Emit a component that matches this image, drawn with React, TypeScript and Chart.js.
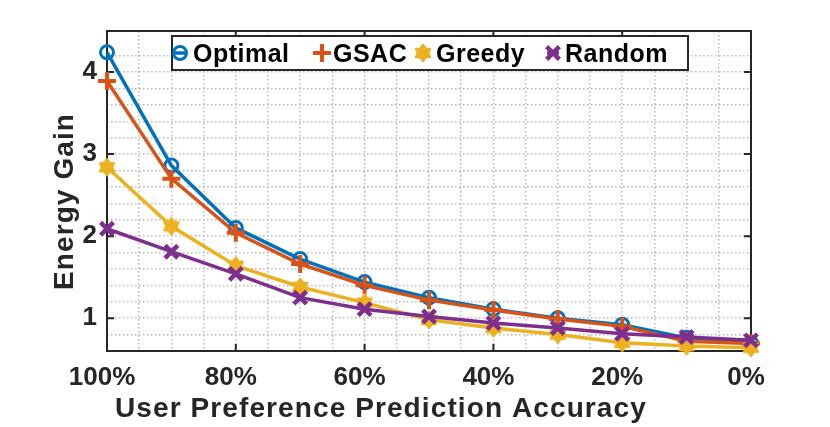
import React, { useEffect, useRef } from 'react';
import { Chart, registerables } from 'chart.js';
import { drawPoint } from 'chart.js/helpers';

Chart.register(...registerables);

// values
const accuracy = [100, 90, 80, 70, 60, 50, 40, 30, 20, 10, 0];
const optimal = [4.24, 2.86, 2.10, 1.72, 1.44, 1.25, 1.11, 1.00, 0.92, 0.76, 0.70];
const gsac = [3.89, 2.70, 2.04, 1.66, 1.40, 1.22, 1.10, 0.99, 0.90, 0.72, 0.69];
const greedy = [2.84, 2.12, 1.64, 1.38, 1.19, 0.98, 0.88, 0.80, 0.70, 0.66, 0.64];
const random = [2.09, 1.81, 1.54, 1.25, 1.11, 1.02, 0.94, 0.88, 0.81, 0.77, 0.73];
const seriesNames = ['Optimal', 'GSAC', 'Greedy', 'Random'];
const xMajorTicks = [100, 80, 60, 40, 20, 0];
const yMajorTicks = [1, 2, 3, 4];

const AXIS = '#262626';
const FONT = 'Liberation Sans';
const GRID = '#b9b9b9';

function hexagram(color: string, r: number) {
  const size = Math.ceil(r * 2 + 6);
  const c = document.createElement('canvas');
  c.width = size;
  c.height = size;
  const g = c.getContext('2d')!;
  g.translate(size / 2, size / 2);
  g.beginPath();
  for (let i = 0; i < 12; i++) {
    const rad = i % 2 === 0 ? r : r * 0.62;
    const ang = -Math.PI / 2 + (i * Math.PI) / 6;
    const px = Math.cos(ang) * rad;
    const py = Math.sin(ang) * rad;
    if (i === 0) g.moveTo(px, py);
    else g.lineTo(px, py);
  }
  g.closePath();
  g.fillStyle = color;
  g.strokeStyle = color;
  g.lineWidth = 2.5;
  g.lineJoin = 'round';
  g.fill();
  g.stroke();
  return c;
}

// frame, inward ticks, axis titles and boxed legend, drawn the MATLAB way
const matlabLook = {
  id: 'matlabLook',
  beforeDatasetsDraw(chart: any) {
    const { ctx, chartArea: a, scales } = chart;
    ctx.save();
    ctx.strokeStyle = AXIS;
    ctx.lineWidth = 2;
    ctx.setLineDash([]);
    ctx.strokeRect(a.left, a.top, a.right - a.left, a.bottom - a.top);
    ctx.beginPath();
    xMajorTicks.forEach((v) => {
      const x = scales.x.getPixelForValue(v);
      ctx.moveTo(x, a.bottom);
      ctx.lineTo(x, a.bottom - 7);
      ctx.moveTo(x, a.top);
      ctx.lineTo(x, a.top + 7);
    });
    yMajorTicks.forEach((v) => {
      const y = scales.y.getPixelForValue(v);
      ctx.moveTo(a.left, y);
      ctx.lineTo(a.left + 7, y);
      ctx.moveTo(a.right, y);
      ctx.lineTo(a.right - 7, y);
    });
    ctx.stroke();
    ctx.restore();
  },
  afterDatasetsDraw(chart: any) {
    const { ctx } = chart;
    ctx.save();
    // axis titles
    ctx.fillStyle = AXIS;
    ctx.font = `bold 28px "${FONT}"`;
    ctx.letterSpacing = '1.1px';
    ctx.textAlign = 'left';
    ctx.textBaseline = 'alphabetic';
    ctx.fillText('User Preference Prediction Accuracy', 115, 417);
    ctx.save();
    ctx.translate(73, 290);
    ctx.rotate(-Math.PI / 2);
    ctx.fillText('Energy Gain', 0, 0);
    ctx.restore();

    // legend box
    ctx.fillStyle = '#ffffff';
    ctx.fillRect(172, 36, 516, 34);
    ctx.strokeStyle = AXIS;
    ctx.lineWidth = 2;
    ctx.strokeRect(172, 36, 516, 34);
    const iconX = [180, 322, 423, 553];
    const textX = [193, 333, 436, 565];
    const cy = 53;
    ctx.font = `bold 25px "${FONT}"`;
    ctx.letterSpacing = '0.5px';
    chart.data.datasets.forEach((ds: any, i: number) => {
      ctx.strokeStyle = ds.borderColor;
      ctx.lineWidth = 3.5;
      ctx.beginPath();
      ctx.moveTo(iconX[i] - 6, cy);
      ctx.lineTo(iconX[i] + 6, cy);
      ctx.stroke();
      ctx.fillStyle = ds.pointBackgroundColor;
      ctx.lineWidth = ds.pointBorderWidth;
      drawPoint(ctx, { pointStyle: ds.pointStyle, radius: ds.pointRadius, rotation: 0, borderWidth: ds.pointBorderWidth }, iconX[i], cy);
      ctx.fillStyle = '#000000';
      ctx.fillText(seriesNames[i], textX[i], 62);
    });
    ctx.restore();
  },
};

const App: React.FC = () => {
  const chartRef = useRef<HTMLCanvasElement>(null);
  const chartInstance = useRef<Chart | null>(null);

  useEffect(() => {
    if (!chartRef.current) return;
    if (chartInstance.current) chartInstance.current.destroy();
    const ctx = chartRef.current.getContext('2d');
    if (!ctx) return;

    const line = (label: string, data: number[], color: string, extra: any) => ({
      label,
      data: accuracy.map((x, i) => ({ x, y: data[i] })),
      borderColor: color,
      backgroundColor: color,
      borderWidth: 3.5,
      tension: 0,
      clip: false,
      pointBorderColor: color,
      ...extra,
    });

    chartInstance.current = new Chart(ctx, {
      type: 'line',
      data: {
        datasets: [
          line('Optimal', optimal, '#0072BD', { pointStyle: 'circle', pointRadius: 6.5, pointBorderWidth: 3, pointBackgroundColor: 'rgba(0,0,0,0)', order: 3 }),
          line('GSAC', gsac, '#D95319', { pointStyle: 'cross', pointRadius: 9, pointBorderWidth: 4, pointBackgroundColor: '#D95319', order: 2 }),
          line('Greedy', greedy, '#EDB120', { pointStyle: hexagram('#EDB120', 8), pointRadius: 8, pointBorderWidth: 2, pointBackgroundColor: '#EDB120', order: 1 }),
          line('Random', random, '#7E2F8E', { pointStyle: 'crossRot', pointRadius: 9, pointBorderWidth: 4.5, pointBackgroundColor: '#7E2F8E', order: 0 }),
        ],
      },
      options: {
        responsive: false,
        animation: false,
        layout: { padding: { left: 0, right: 79, top: 31, bottom: 0 } },
        plugins: { legend: { display: false }, tooltip: { enabled: false } },
        scales: {
          x: {
            type: 'linear',
            min: 0,
            max: 100,
            reverse: true,
            afterFit: (s: any) => { s.height = 76; },
            grid: { color: GRID, lineWidth: 1.5, drawTicks: false },
            border: { display: false, dash: [1.5, 2.5] },
            ticks: {
              stepSize: 5,
              autoSkip: false,
              maxRotation: 0,
              padding: 11,
              labelOffset: -5,
              color: AXIS,
              font: { family: FONT, size: 26, weight: 'bold' },
              callback: (v: any) => (Number(v) % 20 === 0 ? `${v}%` : ''),
            },
          },
          y: {
            type: 'linear',
            min: 0.6,
            max: 4.5,
            afterFit: (s: any) => { s.width = 107; },
            grid: { color: GRID, lineWidth: 1.5, drawTicks: false },
            border: { display: false, dash: [1.5, 2.5] },
            ticks: {
              stepSize: 0.2,
              autoSkip: false,
              padding: 10,
              color: AXIS,
              font: { family: FONT, size: 26, weight: 'bold' },
              callback: (v: any) => {
                const n = Number(v);
                return Math.abs(n - Math.round(n)) < 1e-6 ? String(Math.round(n)) : '';
              },
            },
          },
        },
      },
      plugins: [matlabLook],
    } as any);

    return () => {
      if (chartInstance.current) {
        chartInstance.current.destroy();
        chartInstance.current = null;
      }
    };
  }, []);

  return (
    <div style={{ position: 'absolute', left: 0, top: 0, width: 830, height: 427, background: '#fff' }}>
      <canvas ref={chartRef} width={830} height={427} />
    </div>
  );
};

export default App;
